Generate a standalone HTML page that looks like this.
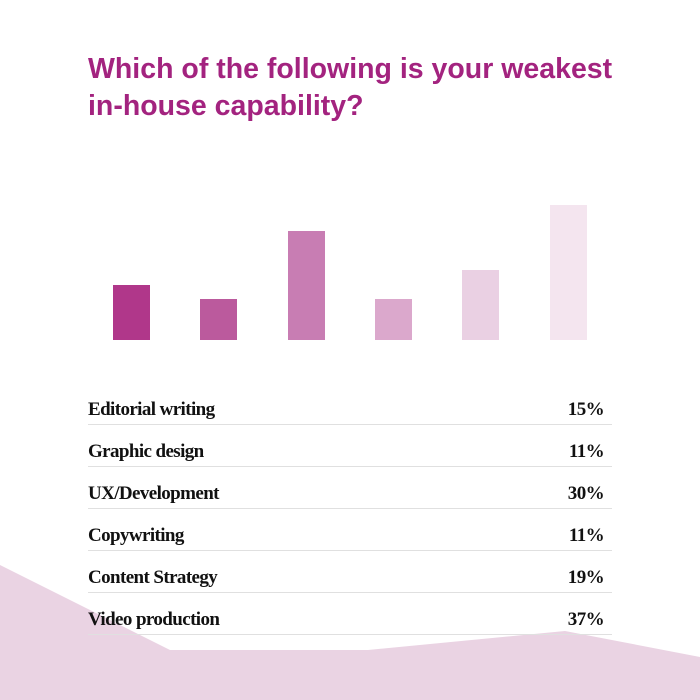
<!DOCTYPE html>
<html><head><style>
body{margin:0;width:700px;height:700px;background:#fff;position:relative;overflow:hidden;font-family:"Liberation Sans",sans-serif}
.t{position:absolute;left:88px;top:51px;font-size:28.5px;font-weight:bold;color:#a3237f;line-height:37px;letter-spacing:0}
.b{position:absolute;width:37px;bottom:360px}
.r{position:absolute;left:88px;width:524px;height:42px;border-bottom:1px solid #e0e0e0;font-family:"Liberation Serif",serif;font-weight:bold;font-size:19px;color:#111;letter-spacing:-0.6px}
.r span{position:absolute;bottom:3px}
.r .v{right:8px}
</style></head><body>
<svg style="position:absolute;left:0;top:0" width="700" height="700"><polygon points="0,565 170,650 368,650 565,631 700,657 700,700 0,700" fill="#ead3e3"/></svg>
<div class="t">Which of the following is your weakest<br>in-house capability?</div>
<div class="b" style="left:113px;height:55px;background:#b0378a"></div>
<div class="b" style="left:200px;height:41px;background:#bb5a9d"></div>
<div class="b" style="left:288px;height:109px;background:#c87db3"></div>
<div class="b" style="left:375px;height:41px;background:#dba8cc"></div>
<div class="b" style="left:462px;height:70px;background:#ead0e3"></div>
<div class="b" style="left:550px;height:135px;background:#f4e5ef"></div>
<div class="r" style="top:382px"><span>Editorial writing</span><span class="v">15%</span></div>
<div class="r" style="top:424px"><span>Graphic design</span><span class="v">11%</span></div>
<div class="r" style="top:466px"><span>UX/Development</span><span class="v">30%</span></div>
<div class="r" style="top:508px"><span>Copywriting</span><span class="v">11%</span></div>
<div class="r" style="top:550px"><span>Content Strategy</span><span class="v">19%</span></div>
<div class="r" style="top:592px"><span>Video production</span><span class="v">37%</span></div>
</body></html>
